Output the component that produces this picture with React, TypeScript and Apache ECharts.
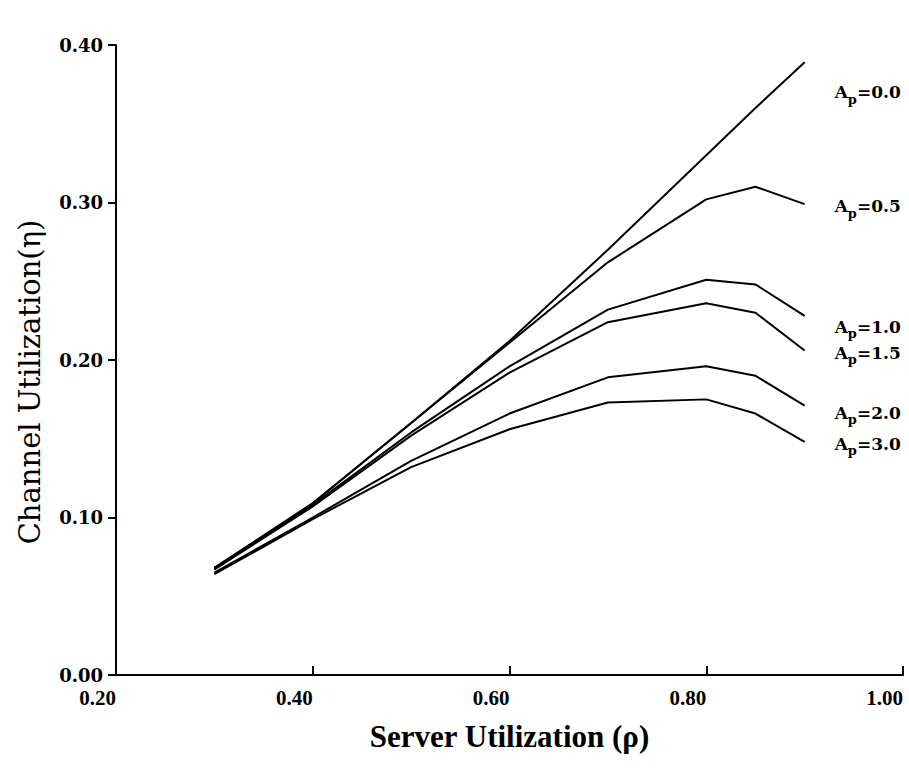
import React, { useEffect, useRef } from "react";
import * as echarts from "echarts";

const rho = [0.3, 0.4, 0.5, 0.6, 0.7, 0.8, 0.85, 0.9];
const apLabels = ["0.0", "0.5", "1.0", "1.5", "2.0", "3.0"];
const ap00 = [0.068, 0.109, 0.160, 0.212, 0.270, 0.330, 0.360, 0.389];
const ap05 = [0.068, 0.109, 0.160, 0.211, 0.262, 0.302, 0.310, 0.299];
const ap10 = [0.067, 0.108, 0.154, 0.196, 0.232, 0.251, 0.248, 0.228];
const ap15 = [0.067, 0.107, 0.152, 0.192, 0.224, 0.236, 0.230, 0.206];
const ap20 = [0.065, 0.100, 0.136, 0.166, 0.189, 0.196, 0.190, 0.171];
const ap30 = [0.064, 0.099, 0.132, 0.156, 0.173, 0.175, 0.166, 0.148];
const seriesValues = [ap00, ap05, ap10, ap15, ap20, ap30];
const xTicks = { min: 0.2, max: 1.0, interval: 0.2 };
const yTicks = { min: 0, max: 0.4, interval: 0.1 };

const labelOffsets = [30, 2, 11, 2, 7, 2];

export default function App() {
  const ref = useRef<HTMLDivElement>(null);
  useEffect(() => {
    if (!ref.current) return;
    const chart = echarts.init(ref.current, null, { renderer: "svg" });
    const rich = {
      a: { fontFamily: "DejaVu Serif", fontWeight: "bold", fontSize: 17, color: "#000" },
      s: {
        fontFamily: "DejaVu Serif",
        fontWeight: "bold",
        fontSize: 13,
        color: "#000",
        padding: [14, 0, 0, 0],
      },
    };
    chart.setOption({
      animation: false,
      backgroundColor: "#fff",
      grid: { left: 116, right: 6, top: 45, bottom: 100 },
      xAxis: {
        type: "value",
        min: xTicks.min,
        max: xTicks.max,
        interval: xTicks.interval,
        name: "Server Utilization (\u03c1)",
        nameLocation: "middle",
        nameGap: 46,
        nameTextStyle: {
          fontFamily: "Liberation Serif",
          fontWeight: "bold",
          fontSize: 31,
          color: "#000",
        },
        axisLine: { show: true, lineStyle: { color: "#000", width: 2 } },
        axisTick: { show: true, inside: true, length: 9, lineStyle: { color: "#000", width: 2 } },
        axisLabel: {
          formatter: (v: number) => v.toFixed(2),
          align: "right",
          margin: 12,
          fontFamily: "Liberation Serif",
          fontWeight: "bold",
          fontSize: 21,
          color: "#000",
        },
        splitLine: { show: false },
      },
      yAxis: {
        type: "value",
        min: yTicks.min,
        max: yTicks.max,
        interval: yTicks.interval,
        name: "Channel Utilization(\u03b7)",
        nameLocation: "middle",
        nameGap: 72,
        nameTextStyle: {
          fontFamily: "DejaVu Serif",
          fontSize: 29,
          color: "#000",
          padding: [0, 44, 0, 0],
        },
        axisLine: { show: true, lineStyle: { color: "#000", width: 2 } },
        axisTick: { show: true, inside: false, length: 8, lineStyle: { color: "#000", width: 2 } },
        axisLabel: {
          formatter: (v: number) => v.toFixed(2),
          margin: 13,
          fontFamily: "DejaVu Serif",
          fontWeight: "bold",
          fontSize: 18,
          color: "#000",
        },
        splitLine: { show: false },
      },
      series: seriesValues.map((vals, i) => ({
        type: "line",
        name: "Ap=" + apLabels[i],
        data: vals.map((v, j) => [rho[j], v]),
        showSymbol: false,
        symbol: "none",
        lineStyle: { color: "#000", width: 2 },
        endLabel: {
          show: true,
          distance: 30,
          offset: [0, labelOffsets[i]],
          formatter: () => `{a|A}{s|p}{a|=${apLabels[i]}}`,
          rich,
        },
      })),
    });
    return () => chart.dispose();
  }, []);
  return (
    <div
      ref={ref}
      style={{ position: "fixed", left: 0, top: 0, width: 909, height: 775, background: "#fff" }}
    />
  );
}
